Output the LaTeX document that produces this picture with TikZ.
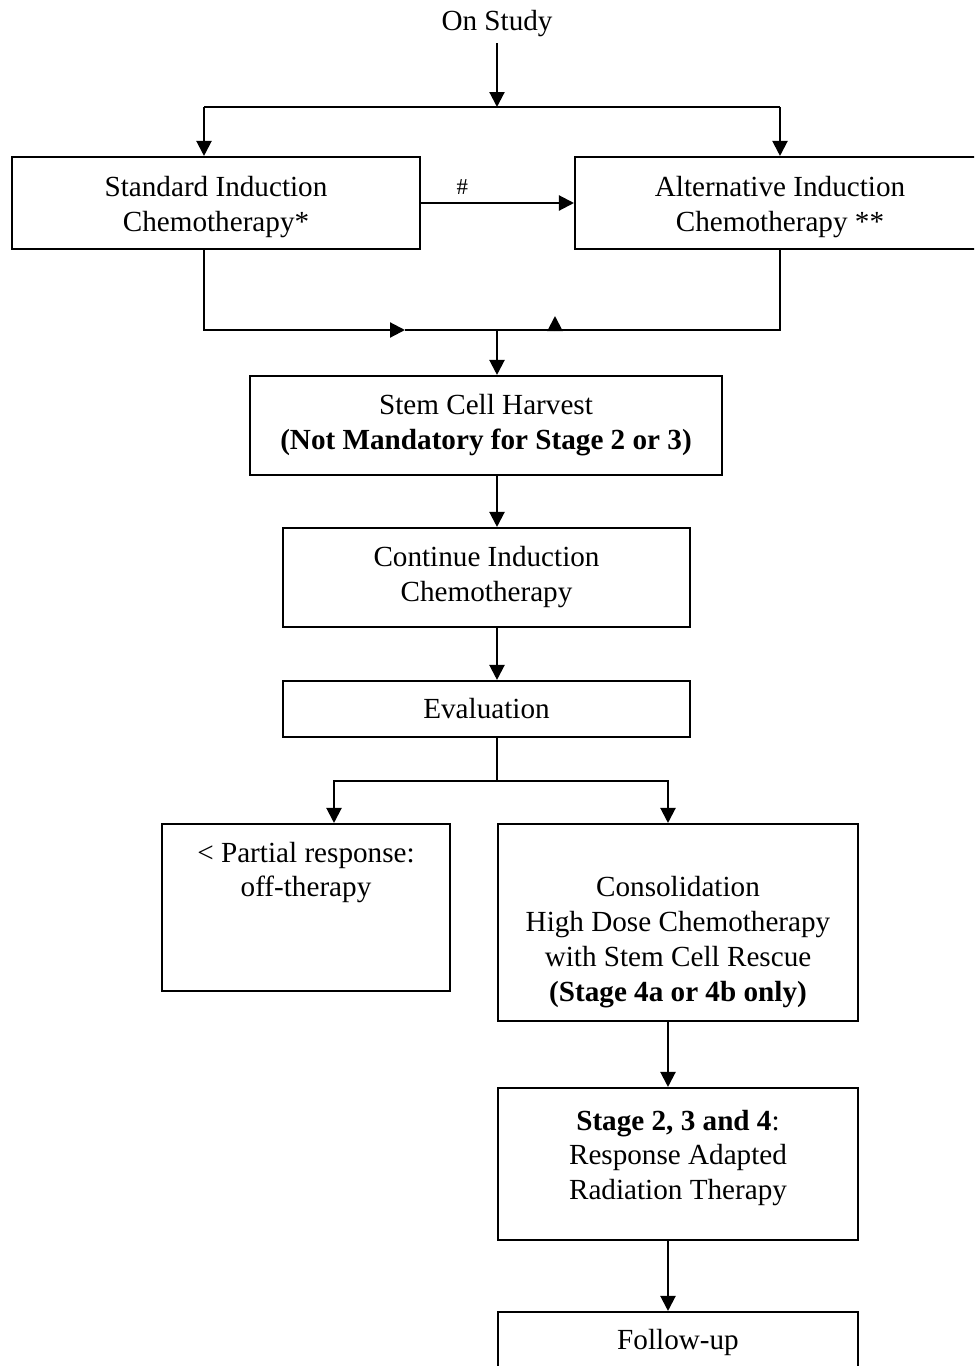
\documentclass[tikz,border=0pt]{standalone}
\usepackage{fontspec}
\setmainfont{Liberation Serif}
\usetikzlibrary{positioning}
\usetikzlibrary{arrows.meta}
\tikzset{>={Triangle[width=3mm,length=3mm]}}
\tikzstyle{flow-box}=[rectangle, draw=black, line width=1.2pt, text centered, align=center]
\tikzstyle{flow-line}=[draw=black, line width=1.2pt]

\begin{document}
\begin{tikzpicture}[x=0.02cm, y=-0.02cm, font=\fontsize{16.6}{19.9}\selectfont]
	\clip (0,0) rectangle (974,1366);

	\node (study) at (497,24) {On Study};
	\coordinate (split) at (497,107);
	\coordinate (split-left) at (204,107);
	\coordinate (split-right) at (780,107);

	\node[flow-box, minimum width=8.16cm, minimum height=1.84cm] (standard) at (216,203) {};
	\node[align=center] (standard-text) at (216,207) {Standard Induction\\Chemotherapy*};
	\node[flow-box, minimum width=8.2cm, minimum height=1.84cm] (alternative) at (780,203) {};
	\node[align=center] (alternative-text) at (780,207) {Alternative Induction\\Chemotherapy **};

	\coordinate (merge) at (497,330);
	\coordinate (merge-tip) at (405,330);
	\coordinate (merge-up) at (555,331);

	\node[flow-box, minimum width=9.44cm, minimum height=1.98cm] (stem) at (486,425.5) {Stem Cell Harvest\\\textbf{(Not Mandatory for Stage 2 or 3)}};
	\node[flow-box, minimum width=8.14cm, minimum height=1.98cm] (continue) at (486.5,577.5) {Continue Induction\\Chemotherapy};
	\node[flow-box, minimum width=8.14cm, minimum height=1.12cm] (evaluation) at (486.5,709) {Evaluation};

	\coordinate (branch) at (497,781);
	\coordinate (branch-left) at (334,781);
	\coordinate (branch-right) at (668,781);

	\node[flow-box, minimum width=5.76cm, minimum height=3.34cm] (partial) at (306,907.5) {};
	\node[align=center] (partial-text) at (306,872.5) {< Partial response:\\off-therapy};

	\node[flow-box, minimum width=7.2cm, minimum height=3.94cm] (consolidation) at (678,922.5) {};
	\node[align=center] (consolidation-text) at (678,942.5) {Consolidation\\High Dose Chemotherapy\\with Stem Cell Rescue\\\textbf{(Stage 4a or 4b only)}};

	\node[flow-box, minimum width=7.2cm, minimum height=3.04cm] (stage) at (678,1164) {};
	\node[align=center] (stage-text) at (678,1158) {\textbf{Stage 2, 3 and 4}:\\Response Adapted\\Radiation Therapy};

	\node[flow-box, minimum width=7.2cm, minimum height=1.2cm] (followup) at (678,1342) {Follow-up};

	% top split
	\draw[flow-line, ->] (study) -- (split);
	\draw[flow-line] (split-left) -- (split-right);
	\draw[flow-line, ->] (split-left) -- (split-left |- standard.north);
	\draw[flow-line, ->] (split-right) -- (split-right |- alternative.north);
	\draw[flow-line, ->] (standard.east) -- node[above=1pt, pos=0.27, font=\fontsize{13}{15}\selectfont] {\#} (standard.east -| alternative.west);

	% merge
	\draw[flow-line, ->] (split-left |- standard.south) |- (merge-tip);
	\draw[flow-line] (merge-tip) -- (split-right |- merge) -- (split-right |- alternative.south);
	\draw[flow-line, ->] (merge-up) -- ++(0,-15);
	\draw[flow-line, ->] (merge) -- (merge |- stem.north);

	% main line
	\draw[flow-line, ->] (merge |- stem.south) -- (merge |- continue.north);
	\draw[flow-line, ->] (merge |- continue.south) -- (merge |- evaluation.north);
	\draw[flow-line] (merge |- evaluation.south) -- (branch);
	\draw[flow-line, ->] (branch) -| (branch-left |- partial.north);
	\draw[flow-line, ->] (branch) -| (branch-right |- consolidation.north);
	\draw[flow-line, ->] (branch-right |- consolidation.south) -- (branch-right |- stage.north);
	\draw[flow-line, ->] (branch-right |- stage.south) -- (branch-right |- followup.north);
\end{tikzpicture}
\end{document}
